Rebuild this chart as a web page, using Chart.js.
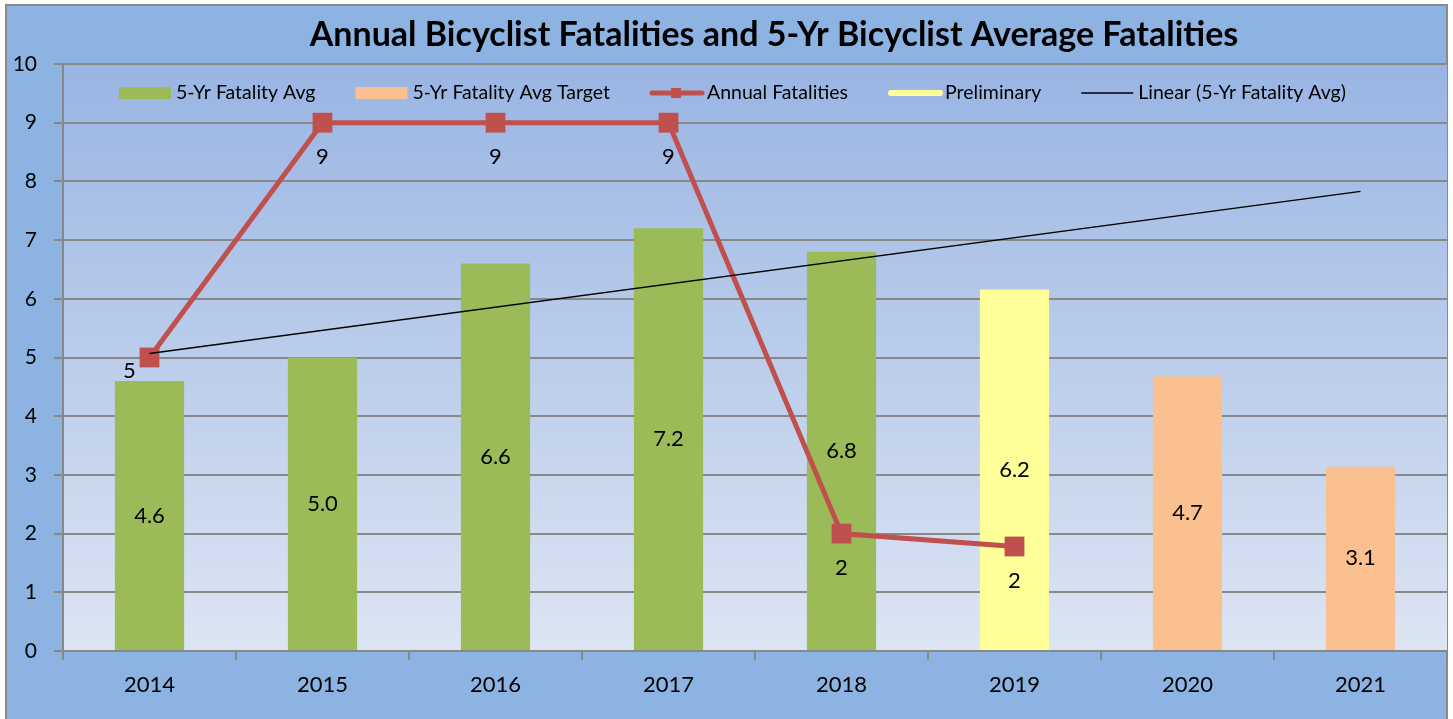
<!DOCTYPE html>
<html>
<head>
<meta charset="utf-8">
<script src="https://cdn.jsdelivr.net/npm/chart.js@4"></script>
<style>
  html, body { margin: 0; padding: 0; background: #ffffff; overflow: hidden; }
  #wrap { position: relative; width: 1453px; height: 719px; overflow: hidden; }
  #c { display: block; width: 1453px; height: 719px; }
</style>
</head>
<body>
<div id="wrap"><canvas id="c" width="1453" height="719"></canvas></div>
<script>
// ---- Data ----
const categories = ['2014', '2015', '2016', '2017', '2018', '2019', '2020', '2021'];
const avg5yr = [4.6, 5.0, 6.6, 7.2, 6.8, null, null, null];
const avgTarget = [null, null, null, null, null, null, 4.68, 3.14];
const preliminary = [null, null, null, null, null, 6.16, null, null];
const annualFatalities = [5, 9, 9, 9, 2, 1.78, null, null];
const trendAvg = [5.07, null, null, null, null, null, null, 7.83];
const yMin = 0, yMax = 10, yStep = 1;
const titleText = 'Annual Bicyclist Fatalities and 5-Yr Bicyclist Average Fatalities';

const FONT = 'Lato, "Open Sans", "DejaVu Sans", sans-serif';
const GREEN = '#9BBB59', ORANGE = '#FAC090', YELLOW = '#FFFF99', RED = '#C0504D';
const GRID = '#888888';

const decorPlugin = {
  id: 'decor',
  beforeDraw(chart) {
    const ctx = chart.ctx;
    const a = chart.chartArea;
    ctx.save();
    ctx.fillStyle = '#ffffff';
    ctx.fillRect(0, 0, chart.width, chart.height);
    ctx.fillStyle = '#8DB3E2';
    ctx.fillRect(6, 5, 1441, 730);
    ctx.strokeStyle = '#8a8a8a';
    ctx.lineWidth = 2;
    ctx.strokeRect(6, 5, 1441, 730);
    const g = ctx.createLinearGradient(0, a.top, 0, a.bottom);
    g.addColorStop(0, '#99B5E3');
    g.addColorStop(1, '#DDE5F3');
    ctx.fillStyle = g;
    ctx.fillRect(a.left, a.top, a.right - a.left, a.bottom - a.top);
    // title
    ctx.fillStyle = '#000000';
    ctx.font = 'bold 34px ' + FONT;
    ctx.textAlign = 'center';
    ctx.textBaseline = 'middle';
    ctx.fillText(titleText, 774, 35);
    ctx.restore();
  },
  afterDatasetsDraw(chart) {
    const ctx = chart.ctx;
    ctx.save();
    ctx.fillStyle = '#000000';
    ctx.font = '22px ' + FONT;
    ctx.textAlign = 'center';
    ctx.textBaseline = 'middle';
    // bar value labels, centred in each bar
    [0, 1, 2].forEach(di => {
      const meta = chart.getDatasetMeta(di);
      const ds = chart.data.datasets[di];
      meta.data.forEach((el, i) => {
        const v = ds.data[i];
        if (v === null || v === undefined) return;
        const y = (el.y + el.base) / 2;
        ctx.fillText(v.toFixed(1), el.x, y);
      });
    });
    // annual fatalities labels, below points (first one to the left)
    const lm = chart.getDatasetMeta(3);
    lm.data.forEach((el, i) => {
      const v = chart.data.datasets[3].data[i];
      if (v === null || v === undefined) return;
      if (i === 0) {
        ctx.fillText(String(Math.round(v)), el.x - 20, el.y + 13);
      } else {
        ctx.fillText(String(Math.round(v)), el.x, el.y + 34);
      }
    });
    ctx.restore();
  },
  afterDraw(chart) {
    const ctx = chart.ctx;
    ctx.save();
    ctx.font = '19.5px ' + FONT;
    ctx.textBaseline = 'middle';
    ctx.textAlign = 'left';
    const ly = 93;
    const items = [
      { ds: 0, type: 'box' },
      { ds: 1, type: 'box' },
      { ds: 3, type: 'marker' },
      { ds: 2, type: 'thick' },
      { ds: 4, type: 'line' }
    ];
    let x = 119;
    items.forEach(it => {
      const ds = chart.data.datasets[it.ds];
      const sw = 52;
      if (it.type === 'box') {
        ctx.fillStyle = ds.backgroundColor;
        ctx.fillRect(x, ly - 6, sw, 12);
      } else if (it.type === 'marker') {
        ctx.strokeStyle = ds.borderColor;
        ctx.lineWidth = 5;
        ctx.lineCap = 'round';
        ctx.beginPath(); ctx.moveTo(x + 2, ly); ctx.lineTo(x + sw, ly); ctx.stroke();
        ctx.fillStyle = ds.borderColor;
        ctx.fillRect(x + sw / 2 - 5, ly - 5, 10, 10);
      } else if (it.type === 'thick') {
        ctx.strokeStyle = ds.backgroundColor;
        ctx.lineWidth = 6;
        ctx.lineCap = 'round';
        ctx.beginPath(); ctx.moveTo(x + 3, ly); ctx.lineTo(x + sw, ly); ctx.stroke();
      } else {
        ctx.strokeStyle = ds.borderColor;
        ctx.lineWidth = 1.5;
        ctx.lineCap = 'butt';
        ctx.beginPath(); ctx.moveTo(x, ly); ctx.lineTo(x + sw, ly); ctx.stroke();
      }
      ctx.fillStyle = '#000000';
      ctx.fillText(ds.label, x + sw + 5, ly);
      x += sw + 5 + ctx.measureText(ds.label).width + 40;
    });
    ctx.restore();
  }
};

new Chart(document.getElementById('c'), {
  data: {
    labels: categories,
    datasets: [
      { type: 'bar', label: '5-Yr Fatality Avg', data: avg5yr, backgroundColor: GREEN,
        grouped: false, categoryPercentage: 1, barPercentage: 0.4, order: 3 },
      { type: 'bar', label: '5-Yr Fatality Avg Target', data: avgTarget, backgroundColor: ORANGE,
        grouped: false, categoryPercentage: 1, barPercentage: 0.4, order: 3 },
      { type: 'bar', label: 'Preliminary', data: preliminary, backgroundColor: YELLOW,
        grouped: false, categoryPercentage: 1, barPercentage: 0.4, order: 3 },
      { type: 'line', label: 'Annual Fatalities', data: annualFatalities, borderColor: RED,
        backgroundColor: RED, borderWidth: 5, pointStyle: 'rect', pointRadius: 14,
        pointBorderWidth: 0, pointBackgroundColor: RED, fill: false, tension: 0, order: 2 },
      { type: 'line', label: 'Linear (5-Yr Fatality Avg)', data: trendAvg, borderColor: '#000000',
        borderWidth: 1.5, pointRadius: 0, spanGaps: true, fill: false, tension: 0, order: 1 }
    ]
  },
  options: {
    responsive: false,
    animation: false,
    devicePixelRatio: 1,
    layout: { autoPadding: false, padding: { top: 64, right: 6, bottom: 0, left: 0 } },
    plugins: { legend: { display: false }, title: { display: false }, tooltip: { enabled: false } },
    scales: {
      x: {
        offset: true,
        grid: { display: true, drawOnChartArea: false, drawTicks: true, offset: true,
                tickLength: 9, color: GRID, lineWidth: 2 },
        border: { display: true, color: GRID, width: 2 },
        ticks: { color: '#000000', font: { family: FONT, size: 22 }, padding: 12, maxRotation: 0 },
        afterFit(scale) { scale.height = 68; scale.paddingLeft = 0; scale.paddingRight = 0; }
      },
      y: {
        min: yMin, max: yMax,
        grid: { color: GRID, lineWidth: 2, tickLength: 9, drawTicks: true },
        border: { display: true, color: GRID, width: 2 },
        ticks: { stepSize: yStep, color: '#000000', font: { family: FONT, size: 21 }, padding: 17 },
        afterFit(scale) { scale.width = 63; }
      }
    }
  },
  plugins: [decorPlugin]
});
</script>
</body>
</html>
